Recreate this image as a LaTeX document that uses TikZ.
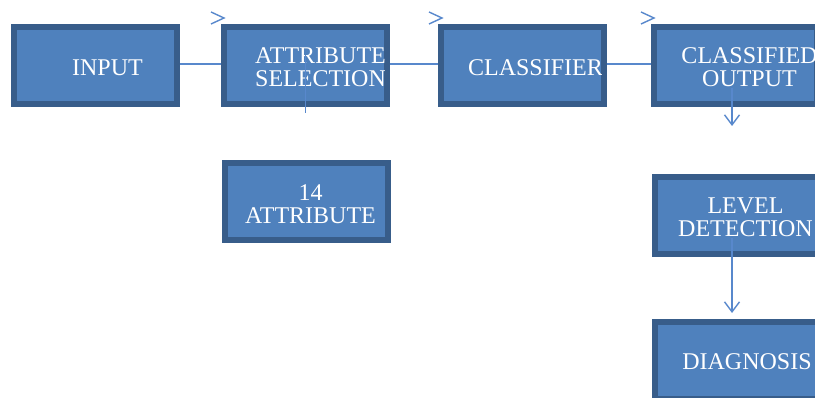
\documentclass[tikz,border=0pt]{standalone}
\usepackage{fontspec}
\setmainfont{Liberation Serif}
\usetikzlibrary{arrows.meta}
\definecolor{boxfill}{RGB}{79,129,189}
\definecolor{boxedge}{RGB}{56,93,138}
\definecolor{conncol}{RGB}{88,136,204}
\tikzset{
  blk/.style={rectangle, fill=boxfill, draw=boxedge, line width=6pt,
    minimum width=163pt, minimum height=77pt, inner sep=0pt},
  lbl/.style={text=white, align=center, inner sep=0pt,
    font=\fontsize{24}{23}\selectfont},
  conn/.style={draw=conncol, line width=1.4pt},
  arr/.style={conn, -{Straight Barb[length=10pt,width=15pt,line width=1.4pt]}}
}
\newcommand{\inlabel}[3]{%
  \begin{scope}
    \clip ([shift={(6,6)}]#1.north west) rectangle ([shift={(-6,-6)}]#1.south east);
    \node[lbl] (#1-t) at ([shift={#2}]#1.center) {#3};
  \end{scope}}
\begin{document}
\begin{tikzpicture}[x=1pt,y=-1pt]
\useasboundingbox (0,0) rectangle (815,398);
% boxes
\node[blk] (in)   at (95.5,65.5) {};
\node[blk] (sel)  at (305.5,65.5) {};
\node[blk] (cls)  at (522.5,65.5) {};
\node[blk] (out)  at (735.5,65.5) {};
\node[blk] (attr) at (306.5,201.5) {};
\node[blk] (lvl)  at (736.5,215.5) {};
\node[blk] (diag) at (736.5,360.5) {};
% labels
\inlabel{in}{(12,2.5)}{INPUT}
\inlabel{sel}{(15,2)}{ATTRIBUTE\\SELECTION}
\inlabel{cls}{(13,2.5)}{CLASSIFIER}
\inlabel{out}{(14,2)}{CLASSIFIED\\OUTPUT}
\inlabel{attr}{(4,3)}{\fontsize{24}{25}\selectfont 14\\ATTRIBUTE}
\inlabel{lvl}{(9,2)}{\fontsize{24}{21}\selectfont LEVEL\\DETECTION}
\inlabel{diag}{(10.5,1.5)}{DIAGNOSIS}
% horizontal connectors
\draw[conn] ([yshift=1.5pt]in.east) -- ([yshift=1.5pt]sel.west);
\draw[conn] ([yshift=1.5pt]sel.east) -- ([yshift=1.5pt]cls.west);
\draw[conn] ([yshift=1.5pt]cls.east) -- ([yshift=1.5pt]out.west);
% displaced arrow heads
\coordinate (h1) at ([shift={(3pt,47.5pt)}]sel.west);
\coordinate (h2) at ([shift={(4pt,47.5pt)}]cls.west);
\coordinate (h3) at ([shift={(3pt,47.5pt)}]out.west);
\foreach \h in {h1,h2,h3}
  \draw[conn] ([shift={(-13,-6)}]\h) -- (\h) -- ([shift={(-13,6)}]\h);
% vertical connectors
\coordinate (selend) at (305.5,113);
\draw[conn] ([yshift=10.5pt]sel.center) -- (selend);
\coordinate (outend) at (732,126);
\draw[arr] ([shift={(-3.5pt,-22.5pt)}]out.center) -- (outend);
\draw[arr] ([shift={(-4.5pt,-22.5pt)}]lvl.center) -- ([shift={(-4.5pt,6pt)}]diag.north);
\end{tikzpicture}
\end{document}
